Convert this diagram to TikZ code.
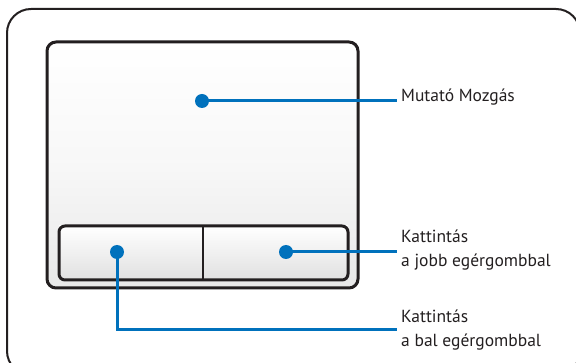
\documentclass[tikz,border=0pt]{standalone}
\usepackage{fontspec}
\setmainfont{PT Sans}
\definecolor{dk}{HTML}{231F20}
\definecolor{bl}{HTML}{0071BC}
\begin{document}
\begin{tikzpicture}[x=1pt,y=-1pt,
  frame/.style={draw=dk,line width=2pt,rounded corners=24pt},
  pad/.style={draw=dk,line width=3pt,rounded corners=9pt,top color=white,bottom color=black!9,middle color=white!97!black},
  btn/.style={draw=dk,line width=3pt,rounded corners=6pt},
  dot/.style={circle,fill=bl,inner sep=0pt,minimum size=14pt},
  lead/.style={draw=bl,line width=3pt},
  lbl/.style={anchor=base west,inner sep=0pt,text=dk,font=\fontsize{17.5}{20}\selectfont}]
\useasboundingbox (0,0) rectangle (576,363);
\draw[frame] (7,9) rectangle (580,375);
\path[pad] (47,42) rectangle (358,288);
\shade[top color=white,bottom color=black!12] (59,226) rectangle (348,280);
\draw[btn] (59,226) rectangle (348,280);
\draw[dk,line width=2pt] (203,226) -- (203,280);
\node[dot] (d1) at (202,101) {};
\node[dot] (d2) at (286,252) {};
\node[dot] (d3) at (117,252) {};
\coordinate (e1) at (397,101);
\coordinate (e2) at (397,252);
\coordinate (e3) at (397,330);
\draw[lead] (d1.center) -- (e1);
\draw[lead] (d2.center) -- (e2);
\draw[lead] (d3.center) |- (e3);
\node[lbl] (t1) at (401,102) {Mutató Mozgás};
\node[lbl] (t2a) at (401,243) {Kattintás};
\node[lbl] (t2b) at (401,267) {a jobb egérgombbal};
\node[lbl] (t3a) at (401,323) {Kattintás};
\node[lbl] (t3b) at (401,347) {a bal egérgombbal};
\end{tikzpicture}
\end{document}
